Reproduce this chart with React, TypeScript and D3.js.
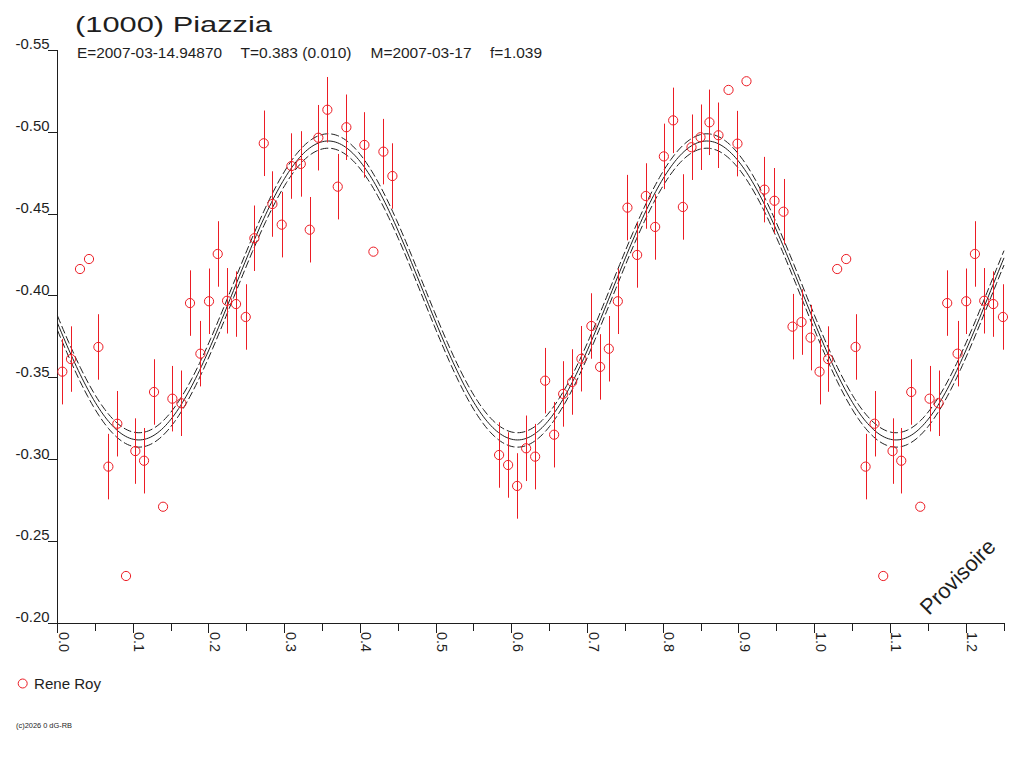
import React from "react";
import * as d3 from "d3";

// ---- Data ----
const PHASE: number[] = [
  0.0064, 0.0178, 0.0297, 0.0416, 0.054, 0.0672, 0.079, 0.0905, 0.1028, 0.1143,
  0.1275, 0.1394, 0.1517, 0.1636, 0.175, 0.1887, 0.2001, 0.2116, 0.2239, 0.2358,
  0.2486, 0.26, 0.2724, 0.2838, 0.2961, 0.3089, 0.3213, 0.3331, 0.3445, 0.3564,
  0.3701, 0.3815, 0.4053, 0.4172, 0.4304, 0.4423,
  0.5832, 0.5951, 0.607, 0.6189, 0.6308, 0.644, 0.6559, 0.6678, 0.6797, 0.6919,
  0.7051, 0.7166, 0.7281, 0.74, 0.7527, 0.7655, 0.777, 0.7893, 0.8008, 0.8131,
  0.8259, 0.8373, 0.8492, 0.861, 0.8729, 0.8862, 0.898, 0.9099, 0.9337, 0.9469,
  0.9588, 0.9707, 0.9826, 0.9945,
];
const MAG: number[] = [
  -0.3537, -0.3614, -0.4164, -0.4225, -0.3688, -0.2957, -0.3219, -0.2289, -0.3052, -0.2993,
  -0.3413, -0.2712, -0.3372, -0.3344, -0.3956, -0.3647, -0.3967, -0.4256, -0.397, -0.395,
  -0.3871, -0.4352, -0.4932, -0.4561, -0.4435, -0.4793, -0.4806, -0.4404, -0.4966, -0.5137,
  -0.4667, -0.503, -0.4922, -0.427, -0.4881, -0.4732,
  -0.3028, -0.2967, -0.2839, -0.3069, -0.3018, -0.3482, -0.3152, -0.3401, -0.3474, -0.3616,
  -0.3816, -0.3566, -0.3677, -0.3967, -0.4539, -0.425, -0.461, -0.4421, -0.4852, -0.5072,
  -0.4543, -0.4908, -0.4969, -0.506, -0.4981, -0.5258, -0.493, -0.5311, -0.4649, -0.4581,
  -0.4514, -0.3812, -0.384, -0.3745,
];
const ERR: number[] = [
  0.02, 0.02, 0, 0, 0.02, 0.02, 0.02, 0, 0.02, 0.02,
  0.02, 0, 0.02, 0.02, 0.02, 0.02, 0.02, 0.02, 0.02, 0.02,
  0.02, 0.02, 0.02, 0.02, 0.02, 0.02, 0.02, 0.02, 0.02, 0.02,
  0.02, 0.02, 0.02, 0, 0.02, 0.02,
  0.02, 0.02, 0.02, 0.02, 0.02, 0.02, 0.02, 0.02, 0.02, 0.02,
  0.02, 0.02, 0.02, 0.02, 0.02, 0.02, 0.02, 0.02, 0.02, 0.02,
  0.02, 0.02, 0.02, 0.02, 0.02, 0, 0.02, 0, 0.02, 0.02,
  0.02, 0.02, 0.02, 0.02,
];

// Fourier fit (2nd harmonic)
const FIT_MEAN = -0.4033;
const FIT_AMP = 0.0913;
const FIT_PEAK_PHASE = 0.3575;
const FIT_HARMONIC = 2;
const FIT_BAND = 0.0044;

const Y_TICKS: number[] = [-0.55, -0.5, -0.45, -0.4, -0.35, -0.3, -0.25, -0.2];
const X_MAJOR: number[] = [0, 0.1, 0.2, 0.3, 0.4, 0.5, 0.6, 0.7, 0.8, 0.9, 1.0, 1.1, 1.2];
const X_MINOR: number[] = [0.05, 0.15, 0.25, 0.35, 0.45, 0.55, 0.65, 0.75, 0.85, 0.95, 1.05, 1.15, 1.25];

const TITLE = "(1000) Piazzia";
const SUB_E = "E=2007-03-14.94870";
const SUB_T = "T=0.383 (0.010)";
const SUB_M = "M=2007-03-17";
const SUB_F = "f=1.039";
const OBSERVER = "Rene Roy";
const STAMP = "Provisoire";
const COPYRIGHT = "(c)2026 0 dG-RB";

const FONT = "'Liberation Sans', Arial, sans-serif";
const RED = "#ec1c24";
const INK = "#1e1e1e";

export default function App() {
  const x = d3.scaleLinear().domain([0, 1.25]).range([57.5, 1004]);
  const y = d3.scaleLinear().domain([-0.55, -0.2]).range([50.3, 623.3]);

  const fit = (p: number) =>
    FIT_MEAN - FIT_AMP * Math.cos(2 * Math.PI * FIT_HARMONIC * (p - FIT_PEAK_PHASE));
  const samples = d3.range(0, 1.2501, 0.0025);
  const line = d3
    .line<number>()
    .x((p) => x(p))
    .y((p) => y(fit(p)));
  const lineUp = d3
    .line<number>()
    .x((p) => x(p))
    .y((p) => y(fit(p) - FIT_BAND));
  const lineDn = d3
    .line<number>()
    .x((p) => x(p))
    .y((p) => y(fit(p) + FIT_BAND));

  const pts: { p: number; m: number; e: number }[] = [];
  PHASE.forEach((p, i) => {
    pts.push({ p, m: MAG[i], e: ERR[i] });
    if (p + 1 <= 1.25) pts.push({ p: p + 1, m: MAG[i], e: ERR[i] });
  });

  const x0 = x(0);
  const yBase = y(-0.2);

  return (
    <div style={{ position: "absolute", left: 0, top: 0 }}>
      <svg width={1024} height={768} style={{ display: "block", background: "#fff" }}>
        {/* title */}
        <text x={75} y={31.5} fontFamily={FONT} fontSize={22} fill={INK}
          textLength={197} lengthAdjust="spacingAndGlyphs">{TITLE}</text>
        <g fontFamily={FONT} fontSize={15} fill={INK}>
          <text x={77} y={58} textLength={145} lengthAdjust="spacingAndGlyphs">{SUB_E}</text>
          <text x={240.5} y={58} textLength={111} lengthAdjust="spacingAndGlyphs">{SUB_T}</text>
          <text x={370.5} y={58} textLength={101} lengthAdjust="spacingAndGlyphs">{SUB_M}</text>
          <text x={490} y={58} textLength={52} lengthAdjust="spacingAndGlyphs">{SUB_F}</text>
        </g>

        {/* axes */}
        <g stroke={INK} strokeWidth={1} shapeRendering="crispEdges">
          <line x1={x0} x2={x0} y1={y(-0.55)} y2={yBase} />
          <line x1={48} x2={x(1.25)} y1={yBase} y2={yBase} />
          {Y_TICKS.map((t) => (
            <line key={"yt" + t} x1={48} x2={x0} y1={y(t)} y2={y(t)} />
          ))}
          {X_MAJOR.map((t) => (
            <line key={"xM" + t} x1={x(t)} x2={x(t)} y1={yBase} y2={yBase + 10} />
          ))}
          {X_MINOR.map((t) => (
            <line key={"xm" + t} x1={x(t)} x2={x(t)} y1={yBase} y2={yBase + 8} />
          ))}
        </g>
        <g fontFamily={FONT} fontSize={14} fill={INK}>
          {Y_TICKS.map((t) => (
            <text key={"yl" + t} x={49.5} y={y(t) - 1} textAnchor="end"
              textLength={34} lengthAdjust="spacingAndGlyphs">{t.toFixed(2)}</text>
          ))}
          {X_MAJOR.map((t) => (
            <text key={"xl" + t} transform={`translate(${x(t) + 1},632) rotate(90)`}
              textLength={20} lengthAdjust="spacingAndGlyphs">{t.toFixed(1)}</text>
          ))}
        </g>

        {/* fit curves */}
        <g fill="none" stroke={INK} strokeWidth={1}>
          <path d={line(samples) || ""} />
          <path d={lineUp(samples) || ""} strokeDasharray="8,3" />
          <path d={lineDn(samples) || ""} strokeDasharray="8,3" />
        </g>

        {/* data */}
        <g stroke={RED} strokeWidth={1} fill="none">
          {pts.filter((d) => d.e > 0).map((d, i) => (
            <line key={"eb" + i} x1={Math.round(x(d.p)) + 0.5} x2={Math.round(x(d.p)) + 0.5}
              y1={y(d.m - d.e)} y2={y(d.m + d.e)} />
          ))}
          {pts.map((d, i) => (
            <circle key={"pt" + i} cx={x(d.p)} cy={y(d.m)} r={4.6} />
          ))}
        </g>

        {/* watermark */}
        <text transform="translate(963,582) rotate(-45)" textAnchor="middle"
          fontFamily={FONT} fontSize={22} fill={INK} textLength={96}
          lengthAdjust="spacingAndGlyphs">{STAMP}</text>

        {/* legend */}
        <circle cx={22.7} cy={683.5} r={4.5} fill="none" stroke={RED} strokeWidth={1} />
        <text x={34} y={688.5} fontFamily={FONT} fontSize={15} fill={INK}
          textLength={67} lengthAdjust="spacingAndGlyphs">{OBSERVER}</text>

        <text x={16} y={728} fontFamily={FONT} fontSize={6.5} fill={INK}
          textLength={56} lengthAdjust="spacingAndGlyphs">{COPYRIGHT}</text>
      </svg>
    </div>
  );
}
